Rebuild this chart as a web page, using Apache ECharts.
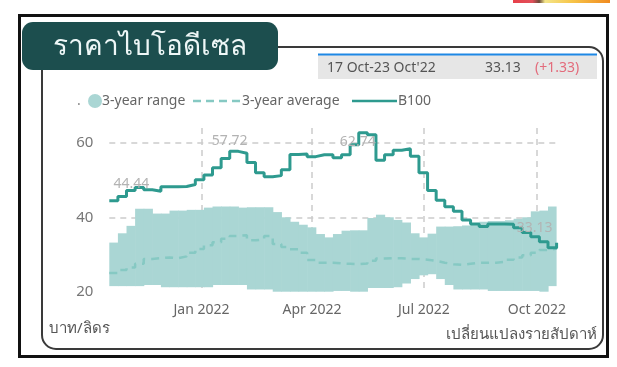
<!DOCTYPE html>
<html>
<head>
<meta charset="utf-8">
<script src="https://cdn.jsdelivr.net/npm/echarts@6/dist/echarts.min.js"></script>
<style>
html,body{margin:0;padding:0;background:#fff;}
#c{width:617px;height:367px;}
</style>
</head>
<body>
<div id="c"></div>
<script>
// Weekly dates (week start)
const weeks = [
 '2021-10-18','2021-10-25','2021-11-01','2021-11-08','2021-11-15','2021-11-22','2021-11-29',
 '2021-12-06','2021-12-13','2021-12-20','2021-12-27','2022-01-03','2022-01-10','2022-01-17',
 '2022-01-24','2022-01-31','2022-02-07','2022-02-14','2022-02-21','2022-02-28','2022-03-07',
 '2022-03-14','2022-03-21','2022-03-28','2022-04-04','2022-04-11','2022-04-18','2022-04-25',
 '2022-05-02','2022-05-09','2022-05-16','2022-05-23','2022-05-30','2022-06-06','2022-06-13',
 '2022-06-20','2022-06-27','2022-07-04','2022-07-11','2022-07-18','2022-07-25','2022-08-01',
 '2022-08-08','2022-08-15','2022-08-22','2022-08-29','2022-09-05','2022-09-12','2022-09-19',
 '2022-09-26','2022-10-03','2022-10-10','2022-10-17'
];
// B100 price (baht/litre)
const b100 = [
 44.44,45.6,47.2,48.0,47.4,47.0,48.2,48.2,48.3,48.8,50.1,51.4,53.3,55.8,
 57.72,57.2,54.7,52.0,50.9,51.2,52.8,56.9,57.0,56.3,56.8,56.8,56.0,56.8,
 59.5,62.74,62.2,55.3,56.8,58.0,58.4,56.4,52.0,47.2,44.6,42.8,41.6,39.3,
 38.2,37.5,38.2,38.2,38.1,37.2,35.9,34.8,33.4,31.80,33.13
];
// 3-year range: upper and lower bounds
const rangeHigh = [
 33.2,35.7,37.7,42.3,42.3,41.0,41.0,41.8,41.8,42.0,42.0,42.6,42.9,42.9,
 42.9,42.6,42.7,42.7,42.7,41.4,40.0,38.8,38.0,37.3,35.5,34.6,35.5,36.4,
 36.5,36.5,39.8,40.7,40.0,39.3,38.6,35.7,34.6,35.6,37.5,37.5,37.6,37.8,
 38.4,38.8,39.0,39.0,39.2,39.6,40.0,41.6,41.8,42.9,42.9
];
const rangeLow = [
 21.5,21.5,21.5,21.5,21.8,21.8,21.2,21.2,21.2,21.2,21.2,21.2,21.8,21.8,
 21.8,21.8,20.6,20.6,20.6,19.6,19.6,19.6,19.6,19.6,19.6,19.6,20.2,20.2,
 20.0,20.0,21.0,21.0,21.0,21.2,22.2,23.4,24.4,24.7,23.4,21.8,20.6,20.6,
 20.6,20.6,20.2,20.2,20.2,20.2,20.2,20.2,19.8,21.5,21.5
];
// 3-year average
const avg3 = [
 25.0,25.8,26.5,27.5,28.8,29.0,29.2,29.0,29.5,30.5,31.5,32.5,33.3,34.2,
 35.0,35.2,33.8,34.0,35.0,32.8,32.0,31.4,30.5,28.5,27.8,27.8,27.6,27.5,
 27.4,27.6,28.3,28.9,29.0,29.0,28.8,28.8,28.6,28.3,27.8,27.4,27.2,27.5,
 27.8,27.8,27.8,28.0,28.6,29.2,29.8,30.5,31.2,31.6,31.9
];
const xTicks = ['2022-01-01','2022-04-01','2022-07-01','2022-10-01'];
const monthNames = ['Jan','Feb','Mar','Apr','May','Jun','Jul','Aug','Sep','Oct','Nov','Dec'];
// indices of B100 points that carry a data label
const labelIdx = [0,14,29,52];
const labelOffsets = {0:[22,-5],14:[0,2],29:[-1,21],52:[-22,-3]};

const ts = s => { const p = s.split('-').map(Number); return Date.UTC(p[0], p[1]-1, p[2]); };

const FONT = '"Noto Sans", "Open Sans", sans-serif';
const TEAL = '#2e9a8f';
const BAND = '#aad6d4';
const AVG = '#86c9c3';

// band: one step block per week, from this week's date to the next one
const bandData = weeks.map((d,i)=>[ts(d), ts(weeks[Math.min(i+1, weeks.length-1)]), rangeLow[i], rangeHigh[i]]);
const avgData = weeks.map((d,i)=>[ts(d), avg3[i]]);
const b100Data = weeks.map((d,i)=>{
  const item = {value:[ts(d), b100[i]]};
  if (labelIdx.indexOf(i) >= 0) {
    item.label = {show:true, position:'top', offset: labelOffsets[i],
      formatter: b100[i].toFixed(2), color:'#b3b3b3', fontSize:14, fontFamily:FONT};
  }
  return item;
});

function renderBand(params, api) {
  const x0 = api.value(0), x1 = api.value(1);
  const lo = Math.max(api.value(2), 20);
  const p0 = api.coord([x0, api.value(3)]);
  const p1 = api.coord([x1, lo]);
  const w = Math.max(p1[0] - p0[0], 0);
  if (w <= 0) return null;
  const rect = echarts.graphic.clipRectByRect(
    {x:p0[0], y:p0[1], width:w + 0.6, height:p1[1]-p0[1]},
    {x:params.coordSys.x, y:params.coordSys.y, width:params.coordSys.width, height:params.coordSys.height});
  return rect && {type:'rect', shape:rect, style:{fill:BAND}};
}

const chart = echarts.init(document.getElementById('c'), null, {renderer:'canvas'});
chart.setOption({
  backgroundColor:'#ffffff',
  animation:false,
  textStyle:{fontFamily:FONT},
  grid:{left:109.3, right:60.4, top:128, bottom:75.3},
  xAxis:{
    type:'value',
    min: ts(weeks[0]), max: ts(weeks[weeks.length-1]),
    axisLine:{show:false},
    axisTick:{show:false, customValues: xTicks.map(ts)},
    axisLabel:{customValues: xTicks.map(ts), color:'#666', fontSize:14, margin:11,
      formatter: v => { const d = new Date(v); return monthNames[d.getUTCMonth()] + ' ' + d.getUTCFullYear(); }},
    splitLine:{show:true, lineStyle:{color:'#cccccc', type:[6,5], width:1.5}}
  },
  yAxis:{
    type:'value', min:20, max:64, interval:20,
    axisLine:{show:false}, axisTick:{show:false},
    axisLabel:{color:'#777', fontSize:15, margin:16, showMaxLabel:false},
    splitLine:{show:true, showMinLine:false, showMaxLine:false,
      lineStyle:{color:'#cccccc', type:[6,5], width:1.5}}
  },
  series:[
    {name:'3-year range', type:'custom', renderItem:renderBand, data:bandData,
     encode:{x:[0,1], y:[2,3]}, silent:true, z:2},
    {name:'3-year average', type:'line', step:'end', data:avgData, symbol:'none',
     lineStyle:{color:AVG, width:2.5, type:[8,6]}, z:3},
    {name:'B100', type:'line', step:'end', data:b100Data,
     symbol:'circle', symbolSize:0.1, showSymbol:true, itemStyle:{color:TEAL},
     lineStyle:{color:TEAL, width:3}, z:4}
  ],
  graphic:[
    {type:'rect', shape:{x:513, y:0, width:97, height:3}, silent:true,
     style:{fill:new echarts.graphic.LinearGradient(0,0,1,0,[
       {offset:0,color:'#e8404a'},{offset:0.2,color:'#e0505a'},{offset:0.27,color:'#6a4a3a'},
       {offset:0.33,color:'#f3e58a'},{offset:0.6,color:'#f7c64a'},{offset:1,color:'#f08a20'}])}},
    {type:'rect', shape:{x:19.5, y:15.5, width:588, height:341}, silent:true,
     style:{fill:'none', stroke:'#111', lineWidth:3}},
    {type:'rect', shape:{x:42, y:47, width:561, height:302, r:14}, silent:true,
     style:{fill:'none', stroke:'#3a3a3a', lineWidth:2}},
    {type:'rect', shape:{x:22, y:22, width:256, height:48, r:11}, silent:true,
     style:{fill:'#1c4e4e'}},
    {type:'text', x:150, y:47, silent:true,
     style:{text:'ราคาไบโอดีเซล', fill:'#eef7f7', font:'28px '+FONT, align:'center', verticalAlign:'middle'}},
    {type:'rect', shape:{x:318, y:55, width:279, height:24}, silent:true, style:{fill:'#e6e6e6'}},
    {type:'rect', shape:{x:318, y:53.5, width:279, height:2}, silent:true, style:{fill:'#1e88e5'}},
    {type:'text', x:327, y:68, silent:true,
     style:{text:"17 Oct-23 Oct'22", fill:'#555', font:'14px '+FONT, verticalAlign:'middle'}},
    {type:'text', x:485, y:68, silent:true,
     style:{text:'33.13', fill:'#555', font:'14px '+FONT, verticalAlign:'middle'}},
    {type:'text', x:535, y:68, silent:true,
     style:{text:'(+1.33)', fill:'#e36b7b', font:'14px '+FONT, verticalAlign:'middle'}},
    {type:'text', x:77, y:101, silent:true,
     style:{text:'.', fill:'#888', font:'14px '+FONT, verticalAlign:'middle'}},
    {type:'circle', shape:{cx:95, cy:101, r:7}, silent:true, style:{fill:BAND}},
    {type:'text', x:102, y:101, silent:true,
     style:{text:'3-year range', fill:'#666', font:'14px '+FONT, verticalAlign:'middle'}},
    {type:'line', shape:{x1:193, y1:101, x2:240, y2:101}, silent:true,
     style:{stroke:AVG, lineWidth:2.5, lineDash:[8,5]}},
    {type:'text', x:242, y:101, silent:true,
     style:{text:'3-year average', fill:'#666', font:'14px '+FONT, verticalAlign:'middle'}},
    {type:'line', shape:{x1:352, y1:101, x2:397, y2:101}, silent:true,
     style:{stroke:TEAL, lineWidth:2.5}},
    {type:'text', x:398, y:101, silent:true,
     style:{text:'B100', fill:'#666', font:'14px '+FONT, verticalAlign:'middle'}},
    {type:'text', x:49, y:329, silent:true,
     style:{text:'บาท/ลิดร', fill:'#555', font:'15px '+FONT, verticalAlign:'middle'}},
    {type:'text', x:597, y:335, silent:true,
     style:{text:'เปลี่ยนแปลงรายสัปดาห์', fill:'#555', font:'15px '+FONT, align:'right', verticalAlign:'middle'}}
  ]
});
</script>
</body>
</html>
